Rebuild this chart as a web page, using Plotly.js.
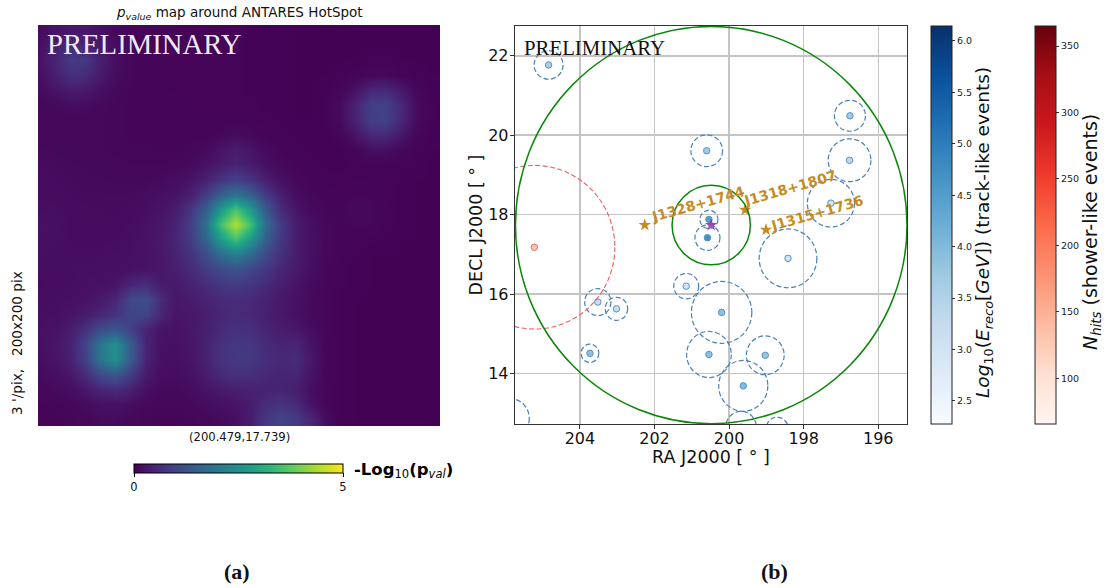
<!DOCTYPE html>
<html><head><meta charset="utf-8">
<script src="https://cdn.plot.ly/plotly-3.0.1.min.js"></script>
<style>html,body{margin:0;padding:0;background:#fff}</style></head>
<body><div id="chart" style="width:1106px;height:588px"></div>
<script>
// p-value map (rows top to bottom, coarse grid)
const pvalueRows = [
[.15,.25,.32,.30,.20,.10,.07,.06,.05,.05,.04,.04,.04,.04,.03,.03,.03,.02,.02,.02,.02,.02,.02,.02,.02,.02,.02,.02],
[.20,.40,.60,.55,.32,.15,.08,.06,.05,.05,.04,.04,.04,.04,.03,.03,.03,.02,.02,.02,.02,.02,.02,.02,.02,.02,.02,.02],
[.25,.50,.85,.80,.40,.18,.08,.06,.05,.04,.04,.04,.04,.04,.03,.03,.03,.02,.02,.02,.02,.02,.03,.03,.02,.02,.02,.02],
[.20,.42,.65,.60,.33,.15,.08,.06,.05,.04,.04,.04,.04,.04,.03,.03,.03,.02,.02,.02,.03,.05,.10,.11,.05,.03,.02,.02],
[.14,.25,.35,.32,.20,.10,.07,.06,.05,.05,.04,.04,.04,.04,.03,.03,.03,.02,.02,.03,.07,.25,.55,.58,.34,.10,.03,.02],
[.10,.12,.15,.14,.10,.08,.07,.06,.05,.05,.05,.04,.05,.05,.04,.03,.03,.02,.02,.04,.14,.50,.92,.98,.58,.16,.04,.02],
[.10,.10,.10,.10,.09,.08,.07,.06,.06,.05,.05,.05,.06,.07,.05,.04,.03,.02,.02,.04,.13,.47,.90,.95,.54,.15,.04,.02],
[.10,.10,.10,.10,.09,.08,.07,.07,.06,.06,.06,.07,.10,.14,.10,.06,.04,.03,.02,.03,.07,.26,.54,.56,.30,.08,.03,.02],
[.12,.11,.10,.10,.09,.08,.08,.08,.07,.07,.09,.14,.25,.38,.25,.13,.07,.04,.03,.02,.03,.08,.18,.18,.10,.04,.02,.02],
[.14,.13,.12,.11,.10,.10,.09,.09,.09,.10,.13,.22,.36,.48,.36,.20,.11,.06,.04,.03,.03,.04,.05,.05,.04,.03,.02,.02],
[.15,.14,.13,.12,.12,.11,.11,.11,.13,.17,.25,.42,.72,.95,.72,.40,.21,.11,.06,.04,.04,.05,.05,.04,.03,.02,.02,.02],
[.16,.15,.14,.13,.13,.13,.13,.15,.19,.26,.42,.85,1.5,1.9,1.5,.82,.40,.17,.09,.06,.05,.07,.07,.05,.03,.02,.02,.02],
[.18,.17,.15,.15,.14,.14,.15,.18,.25,.38,.75,1.45,2.7,3.6,2.7,1.4,.62,.27,.13,.08,.07,.12,.10,.05,.03,.02,.02,.02],
[.22,.20,.16,.15,.15,.15,.17,.21,.30,.47,.90,1.8,3.5,4.45,3.5,1.75,.85,.38,.20,.10,.07,.09,.08,.04,.03,.02,.02,.02],
[.20,.18,.16,.15,.15,.16,.18,.22,.32,.50,.88,1.55,2.7,3.5,2.65,1.5,.80,.38,.22,.10,.06,.05,.04,.03,.02,.02,.02,.02],
[.18,.17,.17,.17,.18,.19,.20,.23,.31,.47,.72,1.15,1.75,2.1,1.7,1.1,.65,.38,.22,.10,.05,.03,.02,.02,.02,.02,.02,.02],
[.17,.17,.18,.19,.19,.20,.22,.25,.30,.42,.60,.85,1.1,1.25,1.05,.78,.52,.33,.18,.08,.04,.03,.02,.02,.02,.02,.02,.02],
[.16,.17,.18,.20,.22,.26,.52,.62,.36,.33,.46,.62,.78,.85,.75,.58,.40,.26,.14,.07,.04,.03,.02,.02,.02,.02,.02,.02],
[.17,.18,.20,.24,.34,.52,1.10,1.2,.60,.30,.35,.48,.58,.62,.58,.45,.32,.22,.12,.06,.03,.02,.02,.02,.02,.02,.02,.02],
[.18,.20,.26,.36,.52,.72,1.0,1.0,.52,.27,.30,.40,.52,.58,.55,.42,.30,.22,.12,.06,.03,.02,.02,.02,.02,.02,.02,.02],
[.20,.24,.38,.70,1.15,1.35,.95,.48,.26,.22,.30,.42,.58,.68,.65,.50,.38,.30,.17,.07,.03,.02,.02,.02,.02,.02,.02,.02],
[.20,.28,.45,1.0,2.0,2.5,1.45,.50,.22,.20,.28,.45,.68,.80,.78,.60,.50,.50,.25,.08,.03,.02,.02,.02,.02,.02,.02,.02],
[.18,.26,.42,.95,1.95,2.45,1.4,.48,.20,.18,.26,.45,.70,.82,.80,.62,.55,.62,.30,.09,.03,.02,.02,.02,.02,.02,.02,.02],
[.14,.20,.30,.62,1.1,1.35,.88,.35,.18,.15,.22,.38,.58,.68,.66,.55,.50,.52,.25,.08,.03,.02,.02,.02,.02,.02,.02,.02],
[.10,.13,.18,.30,.50,.60,.42,.20,.12,.11,.16,.25,.35,.42,.45,.48,.48,.40,.18,.06,.03,.02,.02,.02,.02,.02,.02,.02],
[.07,.08,.10,.14,.20,.22,.17,.11,.09,.09,.11,.15,.20,.26,.38,.62,.75,.60,.25,.07,.03,.02,.02,.02,.02,.02,.02,.02],
[.06,.07,.08,.10,.13,.13,.10,.08,.07,.07,.08,.10,.13,.18,.38,.80,1.0,.85,.55,.15,.03,.02,.02,.02,.02,.02,.02,.02]
];
// track-like events
const trackRA  = [204.84,196.76,196.77,200.60,197.27,200.54,200.58,198.42,201.15,200.20,203.52,203.02,203.73,200.54,199.03,199.62,199.68,198.71,205.87];
const trackDec = [21.77,20.49,19.37,19.61,18.29,17.88,17.42,16.90,16.20,15.54,15.80,15.63,14.51,14.48,14.46,13.69,12.65,12.62,12.87];
const trackErr = [.36,.39,.54,.40,.60,.23,.32,.74,.32,.78,.34,.29,.23,.58,.49,.64,.40,.285,.50];
const trackLogE= [3.6,3.7,3.3,3.7,3.0,4.5,4.7,3.0,3.0,3.9,3.2,3.2,3.9,3.9,3.8,4.0,3.8,3.5,3.5];
// shower-like events
const showerRA = [205.22], showerDec = [17.18], showerErr = [2.06], showerHits = [130];
// catalogue sources
const sourceRA = [202.26,199.57,199.01], sourceDec = [17.74,18.12,17.62];
const sourceNames = ['J1328+1744','J1318+1807','J1315+1736'];
const labelRA = [200.83,198.36,197.64], labelDec = [18.26,18.67,18.04];
const hotRA = 200.479, hotDec = 17.739, ringRadii = [5,1];
const raTicks = [204,202,200,198,196], decTicks = [14,16,18,20,22];

const W=1106,H=588;
const fx=p=>p/W, fy=p=>1-p/H;
const blues=['#f7fbff','#deebf7','#c6dbef','#9ecae1','#6baed6','#4292c6','#2171b5','#08519c','#08306b'].map((c,i)=>[i/8,c]);
const reds=['#fff5f0','#fee0d2','#fcbba1','#fc9272','#fb6a4a','#ef3b2c','#cb181d','#a50f15','#67000d'].map((c,i)=>[i/8,c]);
const dv='"DejaVu Sans", sans-serif', serif='"Liberation Serif", serif';
const cb=(x)=>({orientation:'v',x:fx(x),xanchor:'left',y:fy(25.5),yanchor:'top',lenmode:'pixels',len:397.5,
  thicknessmode:'pixels',thickness:20.5,xpad:0,ypad:0,outlinecolor:'#222',outlinewidth:1,ticks:'outside',ticklen:3,
  tickcolor:'#333',tickfont:{family:dv,size:9.5,color:'#222'}});

const traces=[
 {type:'heatmap',z:pvalueRows,x0:1,dx:7.463,y0:2.5,dy:7.48,xaxis:'x',yaxis:'y',colorscale:'Viridis',zmin:0,zmax:5,zsmooth:'best',
  colorbar:{orientation:'h',x:fx(134),xanchor:'left',y:fy(464),yanchor:'top',lenmode:'pixels',len:209,thicknessmode:'pixels',thickness:9,
   xpad:0,ypad:0,outlinecolor:'#000',outlinewidth:1,tickvals:[0,5],ticks:'outside',ticklen:4,tickcolor:'#000',tickfont:{family:dv,size:11.5,color:'#111'}}},
 {type:'scatter',mode:'markers',x:trackRA,y:trackDec,xaxis:'x2',yaxis:'y2',
  marker:{symbol:'circle',size:6.5,color:trackLogE,cmin:2.28,cmax:6.15,colorscale:blues,line:{color:'#5b93c7',width:1},
   colorbar:Object.assign(cb(931),{tickvals:[2.5,3,3.5,4,4.5,5,5.5,6],ticktext:['2.5','3.0','3.5','4.0','4.5','5.0','5.5','6.0']})}},
 {type:'scatter',mode:'markers',x:showerRA,y:showerDec,xaxis:'x2',yaxis:'y2',
  marker:{symbol:'circle',size:6.5,color:showerHits,cmin:66,cmax:365.5,colorscale:reds,line:{color:'#ef6a6a',width:1},
   colorbar:Object.assign(cb(1035),{tickvals:[100,150,200,250,300,350]})}},
 {type:'scatter',mode:'markers',x:sourceRA,y:sourceDec,xaxis:'x2',yaxis:'y2',
  marker:{symbol:'star',size:9.5,color:'#c68a25',line:{width:0}}},
 {type:'scatter',mode:'markers',x:[hotRA],y:[hotDec],xaxis:'x2',yaxis:'y2',
  marker:{symbol:'star',size:9.5,color:'rgba(160,30,150,0.85)',line:{width:0}}}
];

const ellipse=(ra,dec,r,line)=>{const rx=r/Math.cos(dec*Math.PI/180);
 return {type:'circle',xref:'x2',yref:'y2',x0:ra-rx,x1:ra+rx,y0:dec-r,y1:dec+r,line,layer:'above'};};
const shapes=[];
trackRA.forEach((ra,i)=>shapes.push(ellipse(ra,trackDec[i],trackErr[i],{color:'#4a80b8',width:1.2,dash:'5px,2.5px'})));
showerRA.forEach((ra,i)=>shapes.push(ellipse(ra,showerDec[i],showerErr[i],{color:'#ee5f5f',width:1.1,dash:'5px,2.5px'})));
ringRadii.forEach(r=>shapes.push(ellipse(hotRA,hotDec,r,{color:'#0a870a',width:1.5})));

const px=(x,y,text,size,o={})=>Object.assign({xref:'paper',yref:'paper',x:fx(x),y:fy(y),text,showarrow:false,xanchor:'center',yanchor:'middle',
  font:{family:dv,size,color:'#111'}},o);
const annotations=[
 px(239,12.5,'<i>p</i><sub><i>value</i></sub> map around ANTARES HotSpot',13.5),
 px(45,44,'PRELIMINARY',28.7,{xanchor:'left',font:{family:serif,size:28.7,color:'#f1e9f3'}}),
 px(522,47,'PRELIMINARY',20.8,{xanchor:'left',font:{family:serif,size:20.8,color:'#111'}}),
 px(17,343,"3 '/pix,   200x200 pix",13.6,{textangle:-90}),
 px(239,437,'(200.479,17.739)',11.6),
 px(352,470,'<b>-Log</b><sub>10</sub><b>(p</b><sub><i>val</i></sub><b>)</b>',16.5,{xanchor:'left',font:{family:dv,size:16.5,color:'#000'}}),
 px(237,571,'<b>(a)</b>',22,{font:{family:serif,size:22,color:'#111'}}),
 px(774,571,'<b>(b)</b>',22,{font:{family:serif,size:22,color:'#111'}}),
 px(984,233,'<i>Log</i><sub>10</sub>(<i>E</i><sub><i>reco</i></sub>[<i>GeV</i>]) (track-like events)',18.5,{textangle:-90}),
 px(1091,232,'<i>N</i><sub><i>hits</i></sub> (shower-like events)',19,{textangle:-90})
];
sourceNames.forEach((n,i)=>annotations.push({xref:'x2',yref:'y2',x:labelRA[i],y:labelDec[i],text:'<b>'+n+'</b>',showarrow:false,textangle:-16,
  xanchor:'center',yanchor:'middle',font:{family:dv,size:14,color:'#c68a25'}}));

const layout={width:W,height:H,margin:{l:0,r:0,t:0,b:0},paper_bgcolor:'#fff',plot_bgcolor:'#fff',showlegend:false,autosize:false,
 xaxis:{domain:[fx(38),fx(440)],range:[0,200],visible:false,fixedrange:true},
 yaxis:{domain:[fy(426),fy(25)],range:[200,0],visible:false,fixedrange:true},
 xaxis2:{domain:[fx(515),fx(907)],range:[205.74,195.23],tickvals:raTicks,ticks:'outside',ticklen:4,ticklabelstandoff:-5,tickcolor:'#333',showgrid:true,gridcolor:'#c4c4c4',gridwidth:1.5,
   showline:true,mirror:true,linecolor:'#333',linewidth:1.3,zeroline:false,tickfont:{family:dv,size:16,color:'#111'},anchor:'y2',
   title:{text:'RA J2000 [ ° ]',font:{family:dv,size:17.5,color:'#111'},standoff:0}},
 yaxis2:{domain:[fy(424),fy(26)],range:[12.73,22.75],tickvals:decTicks,ticks:'outside',ticklen:4,ticklabelstandoff:-2,tickcolor:'#333',showgrid:true,gridcolor:'#c4c4c4',gridwidth:1.5,
   showline:true,mirror:true,linecolor:'#333',linewidth:1.3,zeroline:false,tickfont:{family:dv,size:16,color:'#111'},anchor:'x2',
   title:{text:'DECL J2000 [ ° ]',font:{family:dv,size:17.5,color:'#111'},standoff:1}},
 shapes,annotations
};
Plotly.newPlot('chart',traces,layout,{displayModeBar:false,staticPlot:true});
</script></body></html>
